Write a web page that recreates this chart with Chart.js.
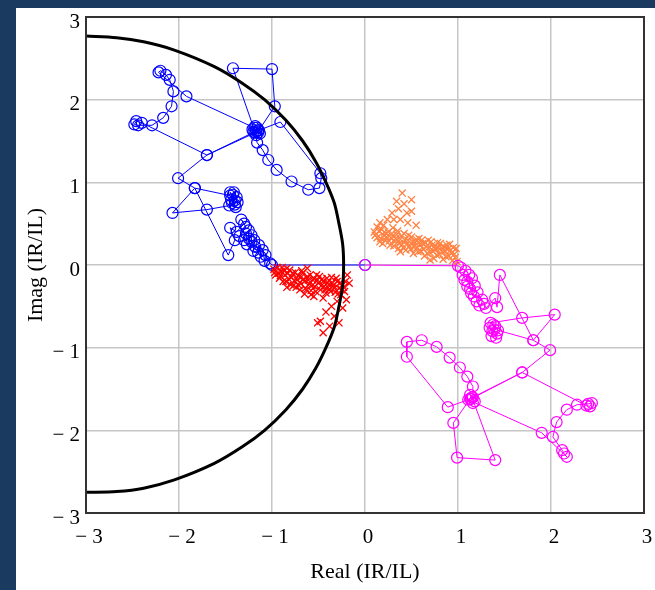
<!DOCTYPE html>
<html>
<head>
<meta charset="utf-8">
<script src="https://cdn.jsdelivr.net/npm/chart.js@4"></script>
<style>
  html, body { margin: 0; padding: 0; background: #1b3a5f; }
  canvas { display: block; }
</style>
</head>
<body>
<canvas id="chart" width="655" height="590"></canvas>
<script>
// --- Data ---
const circlePts = [
  [-3.00, 2.77], [-2.67, 2.75], [-2.38, 2.70], [-2.05, 2.60], [-1.62, 2.40], [-1.32, 2.20],
  [-1.08, 2.00], [-0.85, 1.75], [-0.67, 1.50], [-0.53, 1.25], [-0.42, 1.00], [-0.33, 0.75],
  [-0.28, 0.50], [-0.24, 0.25], [-0.23, 0.00], [-0.24, -0.25], [-0.28, -0.50], [-0.33, -0.75],
  [-0.42, -1.00], [-0.53, -1.25], [-0.67, -1.50], [-0.85, -1.75], [-1.08, -2.00], [-1.32, -2.20],
  [-1.62, -2.40], [-2.05, -2.60], [-2.38, -2.70], [-2.67, -2.74], [-3.00, -2.75]
];

const bluePts = [
  [-1.17, 1.62], [-1.70, 1.33], [-2.40, 1.72], [-2.46, 1.74], [-2.48, 1.70], [-2.44, 1.69],
  [-2.29, 1.69], [-2.17, 1.78], [-2.08, 1.92], [-2.06, 2.10], [-2.10, 2.24], [-2.14, 2.30],
  [-2.20, 2.35], [-2.22, 2.33], [-1.92, 2.04], [-1.19, 1.66], [-1.15, 1.60], [-1.16, 1.66],
  [-1.20, 1.61], [-1.13, 1.59], [-1.18, 1.68], [-1.15, 1.63], [-1.21, 1.64], [-1.17, 1.57],
  [-1.42, 2.38], [-1.00, 2.37], [-0.97, 1.92], [-1.14, 1.63], [-0.91, 1.73], [-0.48, 1.11],
  [-0.47, 1.05], [-0.49, 0.93], [-0.61, 0.91], [-0.79, 1.01], [-0.95, 1.15], [-1.04, 1.27],
  [-1.10, 1.39], [-1.16, 1.48], [-1.18, 1.60], [-1.70, 1.33], [-2.01, 1.05], [-1.83, 0.93],
  [-1.45, 0.84], [-1.40, 0.78], [-1.43, 0.75], [-1.38, 0.82], [-1.41, 0.88], [-1.44, 0.79],
  [-1.39, 0.70], [-1.46, 0.72], [-1.42, 0.85], [-1.37, 0.76], [-1.45, 0.88], [-1.40, 0.73],
  [-1.70, 0.67], [-2.07, 0.63], [-1.83, 0.93], [-1.47, 0.12],
  [-1.40, 0.30], [-1.45, 0.45], [-1.38, 0.40], [-1.30, 0.50], [-1.33, 0.55], [-1.28, 0.46],
  [-1.35, 0.35], [-1.28, 0.38], [-1.25, 0.42], [-1.25, 0.32], [-1.30, 0.30], [-1.22, 0.28],
  [-1.22, 0.36], [-1.27, 0.25], [-1.18, 0.22], [-1.19, 0.30], [-1.20, 0.17], [-1.15, 0.15],
  [-1.14, 0.24], [-1.12, 0.10], [-1.10, 0.18], [-1.08, 0.05], [-1.07, 0.12], [-1.02, 0.02],
  [-1.00, 0.00], [0.00, 0.00]
];

const magentaPts = [
  [0.00, 0.00], [1.00, -0.01], [1.03, -0.03], [1.08, -0.07], [1.05, -0.12], [1.12, -0.12],
  [1.10, -0.20], [1.15, -0.16], [1.07, -0.18], [1.18, -0.25], [1.13, -0.29], [1.10, -0.26],
  [1.21, -0.33], [1.17, -0.38], [1.14, -0.34], [1.26, -0.42], [1.20, -0.44], [1.23, -0.49],
  [1.28, -0.47], [1.30, -0.52], [1.40, -0.40], [1.42, -0.51], [1.45, -0.12], [1.81, -0.91],
  [2.04, -0.60], [1.69, -0.64], [1.35, -0.70], [1.40, -0.74], [1.37, -0.80], [1.42, -0.83],
  [1.36, -0.86], [1.39, -0.78], [1.34, -0.76], [1.41, -0.88], [1.38, -0.72], [1.43, -0.79],
  [1.81, -0.91], [1.99, -1.03], [1.69, -1.30], [1.16, -1.60],
  [1.16, -1.47], [1.10, -1.35], [1.02, -1.24], [0.91, -1.12], [0.77, -0.99], [0.61, -0.91],
  [0.45, -0.93], [0.45, -1.11], [0.89, -1.72], [1.13, -1.62], [0.95, -1.91], [0.99, -2.33],
  [1.40, -2.36], [1.15, -1.60], [1.18, -1.65], [1.13, -1.57], [1.16, -1.67], [1.11, -1.63],
  [1.90, -2.03], [2.17, -2.32], [2.14, -2.28], [2.12, -2.24], [2.02, -2.08], [2.06, -1.90],
  [2.17, -1.75], [2.28, -1.69], [2.40, -1.68], [2.44, -1.67], [2.42, -1.71], [2.38, -1.70],
  [1.69, -1.30], [1.14, -1.62]
];

const redPts = [
  [-0.98, -0.05], [-0.96, -0.12], [-0.94, -0.03], [-0.92, -0.16], [-0.90, -0.08], [-0.88, -0.20],
  [-0.86, -0.12], [-0.84, -0.04], [-0.82, -0.17], [-0.80, -0.24], [-0.78, -0.10], [-0.76, -0.19],
  [-0.74, -0.27], [-0.72, -0.13], [-0.70, -0.21], [-0.68, -0.07], [-0.66, -0.17], [-0.64, -0.28],
  [-0.62, -0.14], [-0.60, -0.23], [-0.58, -0.31], [-0.56, -0.18], [-0.54, -0.26], [-0.52, -0.12],
  [-0.50, -0.22], [-0.48, -0.30], [-0.46, -0.17], [-0.44, -0.26], [-0.42, -0.34], [-0.40, -0.21],
  [-0.38, -0.29], [-0.36, -0.15], [-0.34, -0.25], [-0.32, -0.33], [-0.30, -0.20], [-0.28, -0.28],
  [-0.26, -0.36], [-0.24, -0.24], [-0.22, -0.32], [-0.20, -0.42], [-0.17, -0.22], [-0.19, -0.12],
  [-0.97, -0.09], [-0.93, -0.10], [-0.91, -0.13], [-0.89, -0.03], [-0.87, -0.07], [-0.85, -0.20],
  [-0.83, -0.10], [-0.81, -0.06], [-0.79, -0.15], [-0.77, -0.25], [-0.75, -0.09], [-0.73, -0.18],
  [-0.71, -0.25], [-0.69, -0.15], [-0.67, -0.10], [-0.65, -0.20], [-0.63, -0.30], [-0.61, -0.18],
  [-0.59, -0.12], [-0.57, -0.25], [-0.55, -0.16], [-0.53, -0.32], [-0.51, -0.18], [-0.49, -0.14],
  [-0.47, -0.25], [-0.45, -0.20], [-0.43, -0.30], [-0.41, -0.16], [-0.39, -0.24], [-0.37, -0.32],
  [-0.35, -0.22], [-0.33, -0.28], [-0.31, -0.16], [-0.29, -0.35], [-0.27, -0.22], [-0.25, -0.30],
  [-0.23, -0.27], [-0.21, -0.20], [-0.70, -0.30], [-0.58, -0.36], [-0.45, -0.40],
  [-0.30, -0.44], [-0.36, -0.50], [-0.24, -0.52], [-0.42, -0.57], [-0.33, -0.62], [-0.48, -0.68],
  [-0.38, -0.74], [-0.28, -0.70], [-0.51, -0.70], [-0.45, -0.82], [-0.65, -0.35], [-0.84, -0.27],
  [-0.55, -0.38], [-0.62, -0.04]
];

const orangePts = [
  [0.10, 0.40], [0.13, 0.33], [0.16, 0.28], [0.18, 0.43], [0.20, 0.36], [0.22, 0.30],
  [0.25, 0.40], [0.27, 0.24], [0.28, 0.33], [0.30, 0.45], [0.32, 0.28], [0.34, 0.37],
  [0.36, 0.20], [0.38, 0.31], [0.40, 0.25], [0.42, 0.38], [0.44, 0.18], [0.46, 0.30],
  [0.48, 0.23], [0.50, 0.34], [0.52, 0.14], [0.54, 0.27], [0.56, 0.21], [0.58, 0.32],
  [0.60, 0.17], [0.62, 0.26], [0.64, 0.11], [0.66, 0.22], [0.68, 0.30], [0.70, 0.15],
  [0.72, 0.24], [0.74, 0.08], [0.76, 0.19], [0.78, 0.27], [0.80, 0.13], [0.82, 0.21],
  [0.84, 0.07], [0.86, 0.17], [0.88, 0.24], [0.90, 0.11], [0.92, 0.18], [0.94, 0.05],
  [0.96, 0.13], [0.98, 0.20], [0.99, 0.04],
  [0.11, 0.36], [0.15, 0.41], [0.17, 0.32], [0.19, 0.26], [0.21, 0.40], [0.23, 0.34],
  [0.26, 0.29], [0.29, 0.38], [0.31, 0.23], [0.33, 0.32], [0.35, 0.41], [0.37, 0.26],
  [0.39, 0.35], [0.41, 0.21], [0.43, 0.30], [0.45, 0.25], [0.47, 0.36], [0.49, 0.19],
  [0.51, 0.28], [0.53, 0.22], [0.55, 0.31], [0.57, 0.16], [0.59, 0.25], [0.61, 0.30],
  [0.63, 0.19], [0.65, 0.27], [0.67, 0.14], [0.69, 0.22], [0.71, 0.28], [0.73, 0.17],
  [0.75, 0.23], [0.77, 0.12], [0.79, 0.21], [0.81, 0.26], [0.83, 0.16], [0.85, 0.22],
  [0.87, 0.10], [0.89, 0.19], [0.91, 0.25], [0.93, 0.14], [0.95, 0.21], [0.97, 0.09],
  [0.40, 0.87], [0.50, 0.79], [0.34, 0.77], [0.45, 0.63], [0.50, 0.65], [0.29, 0.63],
  [0.16, 0.51], [0.13, 0.46], [0.46, 0.51], [0.38, 0.55], [0.24, 0.55], [0.55, 0.48],
  [0.42, 0.74], [0.36, 0.68], [0.31, 0.55], [0.20, 0.48], [0.70, 0.06], [0.38, 0.16]
];

const axisTicks = [-3, -2, -1, 0, 1, 2, 3];
const xTitle = "Real (IR/IL)";
const yTitle = "Imag (IR/IL)";

// --- Helpers ---
const toXY = arr => arr.map(([x, y]) => ({ x, y }));
const fmtTick = v => (v < 0 ? "\u2212 " + Math.abs(v) : String(v));
const serif = { family: "'Liberation Serif', 'Times New Roman', serif", size: 21 };
const titleFont = { family: "'Liberation Serif', 'Times New Roman', serif", size: 22 };

// panel background: navy frame with white sheet
const panelPlugin = {
  id: "panel",
  beforeDraw(chart) {
    const { ctx, width, height } = chart;
    ctx.save();
    ctx.fillStyle = "#1b3a5f";
    ctx.fillRect(0, 0, width, height);
    ctx.fillStyle = "#ffffff";
    ctx.fillRect(16, 8, width - 16, height - 8);
    ctx.restore();
  }
};

// full box round the plot area
const framePlugin = {
  id: "frame",
  afterDraw(chart) {
    const { ctx, chartArea: a } = chart;
    ctx.save();
    ctx.strokeStyle = "#333333";
    ctx.lineWidth = 2;
    ctx.strokeRect(a.left, a.top, a.right - a.left, a.bottom - a.top);
    ctx.restore();
  }
};

function axis(title, isX) {
  return {
    type: "linear",
    min: -3,
    max: 3,
    afterBuildTicks: s => { s.ticks = axisTicks.map(v => ({ value: v })); },
    afterFit: s => {
      // fixed axis boxes so the plot area sits where the reference has it
      if (isX) { s.height = 77; s.paddingLeft = 0; s.paddingRight = 0; }
      else { s.width = 86; s.paddingTop = 0; s.paddingBottom = 0; }
    },
    ticks: {
      callback: fmtTick,
      font: serif,
      color: "#000",
      padding: isX ? 12 : 6,
      labelOffset: isX ? 3 : 5
    },
    grid: { color: "#c6c6c6", lineWidth: 1.5, drawTicks: false },
    border: { display: false },
    title: {
      display: true,
      text: title,
      font: titleFont,
      color: "#000",
      padding: isX ? { top: 0, bottom: 5 } : { top: 23, bottom: 0 }
    }
  };
}

const circleMarks = color => ({
  showLine: true,
  borderColor: color,
  borderWidth: 1,
  pointStyle: "circle",
  pointRadius: 5.5,
  pointBorderColor: color,
  pointBackgroundColor: "rgba(0,0,0,0)",
  pointBorderWidth: 1.2
});

const crossMarks = color => ({
  showLine: false,
  borderColor: color,
  pointStyle: "crossRot",
  pointRadius: 5,
  pointBorderColor: color,
  pointBorderWidth: 1.3
});

new Chart(document.getElementById("chart"), {
  type: "scatter",
  data: {
    datasets: [
      { label: "circle", data: toXY(circlePts), showLine: true, borderColor: "#000", borderWidth: 3, pointRadius: 0, tension: 0.3 },
      { label: "magenta", data: toXY(magentaPts), ...circleMarks("#ff00ff") },
      { label: "orange", data: toXY(orangePts), ...crossMarks("#ff8040") },
      { label: "red", data: toXY(redPts), ...crossMarks("#ff0000") },
      { label: "blue", data: toXY(bluePts), ...circleMarks("#0000ff") }
    ]
  },
  options: {
    responsive: false,
    animation: false,
    layout: { padding: { top: 17, right: 11, left: 0, bottom: 0 } },
    scales: { x: axis(xTitle, true), y: axis(yTitle, false) },
    plugins: { legend: { display: false }, tooltip: { enabled: false } }
  },
  plugins: [panelPlugin, framePlugin]
});
</script>
</body>
</html>
